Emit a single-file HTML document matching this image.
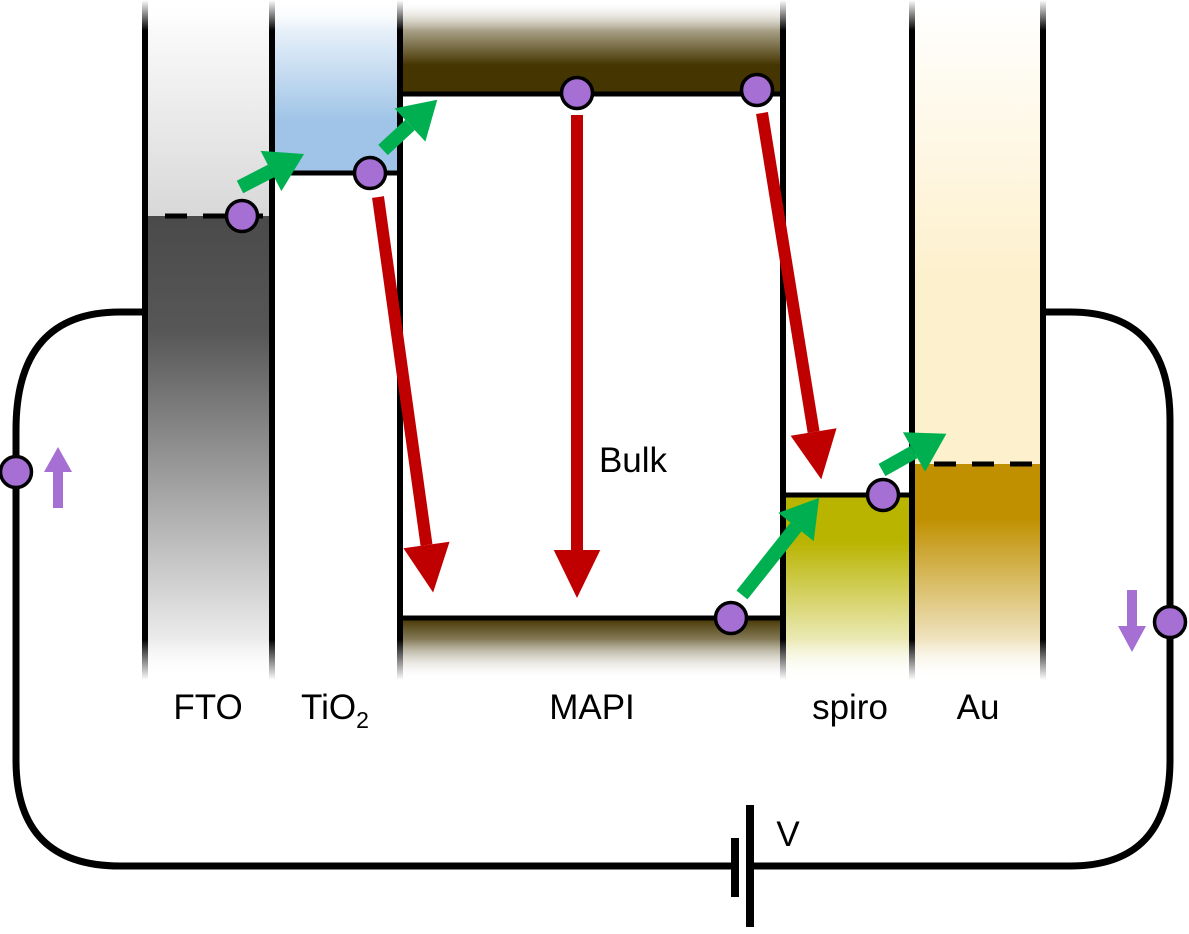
<!DOCTYPE html>
<html><head><meta charset="utf-8"><style>html,body{margin:0;padding:0;background:#fff}svg{display:block}</style></head><body>
<svg width="1189" height="934" viewBox="0 0 1189 934" xmlns="http://www.w3.org/2000/svg">
<defs>
<linearGradient id="fade" gradientUnits="userSpaceOnUse" x1="0" y1="0" x2="0" y2="680">
<stop offset="0" stop-color="#000"/><stop offset="0.045" stop-color="#fff"/><stop offset="0.94" stop-color="#fff"/><stop offset="1" stop-color="#000"/></linearGradient>
<mask id="m" maskUnits="userSpaceOnUse" x="0" y="0" width="1189" height="700"><rect x="0" y="0" width="1189" height="680" fill="url(#fade)"/></mask>
<linearGradient id="ftoT" x1="0" y1="0" x2="0" y2="1"><stop offset="0" stop-color="#fff"/><stop offset="1" stop-color="#d8d8d8"/></linearGradient>
<linearGradient id="ftoB" x1="0" y1="0" x2="0" y2="1"><stop offset="0" stop-color="#4a4a4a"/><stop offset="0.25" stop-color="#575757"/><stop offset="1" stop-color="#fff"/></linearGradient>
<linearGradient id="tio" x1="0" y1="0" x2="0" y2="1"><stop offset="0" stop-color="#fff"/><stop offset="0.7" stop-color="#9fc4e7"/><stop offset="1" stop-color="#9fc4e7"/></linearGradient>
<linearGradient id="mT" x1="0" y1="0" x2="0" y2="1"><stop offset="0" stop-color="#fff"/><stop offset="0.7" stop-color="#453500"/><stop offset="1" stop-color="#453500"/></linearGradient>
<linearGradient id="mB" x1="0" y1="0" x2="0" y2="1"><stop offset="0" stop-color="#453500"/><stop offset="1" stop-color="#fff"/></linearGradient>
<linearGradient id="sp" x1="0" y1="0" x2="0" y2="1"><stop offset="0" stop-color="#b9b400"/><stop offset="0.25" stop-color="#b9b400"/><stop offset="1" stop-color="#fff"/></linearGradient>
<linearGradient id="auT" x1="0" y1="0" x2="0" y2="1"><stop offset="0" stop-color="#fff"/><stop offset="0.6" stop-color="#fdf0cc"/><stop offset="1" stop-color="#fdf0cc"/></linearGradient>
<linearGradient id="auB" x1="0" y1="0" x2="0" y2="1"><stop offset="0" stop-color="#c09000"/><stop offset="0.25" stop-color="#c09000"/><stop offset="1" stop-color="#fff"/></linearGradient>
<marker id="ga" markerUnits="strokeWidth" markerWidth="3" markerHeight="4" refX="0" refY="0" viewBox="0 -1.6 2.6 3.2" orient="auto" overflow="visible"><path d="M0,-1.4 L2.3,0 L0,1.4 z" fill="#00b050"/></marker>
<marker id="ra" markerUnits="strokeWidth" markerWidth="4" markerHeight="4" refX="0" refY="0" viewBox="0 -1.6 3.3 3.2" orient="auto" overflow="visible"><path d="M0,-1.6 L3.3,0 L0,1.6 z" fill="#c00000"/></marker>
</defs>

<g mask="url(#m)">
<rect x="145" y="0" width="127" height="216" fill="url(#ftoT)"/>
<rect x="145" y="216" width="127" height="464" fill="url(#ftoB)"/>
<rect x="272" y="0" width="128" height="173" fill="url(#tio)"/>
<rect x="400" y="0" width="383" height="93" fill="url(#mT)"/>
<rect x="400" y="618" width="383" height="62" fill="url(#mB)"/>
<rect x="783" y="495" width="129" height="185" fill="url(#sp)"/>
<rect x="912" y="0" width="131" height="464" fill="url(#auT)"/>
<rect x="912" y="464" width="131" height="216" fill="url(#auB)"/>
<g stroke="#000" stroke-width="6">
<line x1="145" y1="0" x2="145" y2="680"/><line x1="272" y1="0" x2="272" y2="680"/>
<line x1="400" y1="0" x2="400" y2="680"/><line x1="783" y1="0" x2="783" y2="680"/>
<line x1="912" y1="0" x2="912" y2="680"/><line x1="1043" y1="0" x2="1043" y2="680"/>
</g>
</g>
<g stroke="#000" stroke-width="5">
<line x1="272" y1="173" x2="400" y2="173"/>
<line x1="400" y1="94" x2="783" y2="94"/>
<line x1="400" y1="618" x2="783" y2="618"/>
<line x1="783" y1="495" x2="912" y2="495"/>
<line x1="165" y1="216" x2="272" y2="216" stroke-dasharray="22,16"/>
<line x1="934" y1="464" x2="1043" y2="464" stroke-dasharray="22,16"/>
</g>

<g fill="none" stroke="#000" stroke-width="7">
<path d="M145,312 L120,312 Q16,312 16,430 L16,760 Q16,866 120,866 L735,866"/>
<path d="M750,866 L1070,866 Q1170,866 1170,760 L1170,420 Q1170,312 1070,312 L1043,312"/>
</g>
<line x1="735" y1="838" x2="735" y2="897" stroke="#000" stroke-width="8"/>
<line x1="750" y1="805" x2="750" y2="927" stroke="#000" stroke-width="8"/>

<g stroke="#00b050" stroke-width="14" marker-end="url(#ga)">
<line x1="240" y1="187" x2="271" y2="171"/>
<line x1="383" y1="150" x2="410" y2="125"/>
<line x1="742" y1="595" x2="796" y2="527"/>
<line x1="882" y1="470" x2="914" y2="452"/>
</g>
<g stroke="#c00000" stroke-width="12" marker-end="url(#ra)">
<line x1="378" y1="197" x2="426.5" y2="545"/>
<line x1="577" y1="115" x2="577" y2="550"/>
<line x1="762" y1="113" x2="813.6" y2="432"/>
</g>
<g fill="#a56fd4">
<rect x="53" y="470" width="10" height="38"/><path d="M44,472 L58,447 L72,472 z"/>
<rect x="1127" y="590" width="10" height="38"/><path d="M1118,626 L1132,652 L1146,626 z"/>
</g>
<g fill="#a56fd4" stroke="#000" stroke-width="3.5">
<circle cx="242" cy="216" r="15.5"/><circle cx="370" cy="173" r="15.5"/>
<circle cx="577" cy="93" r="15.5"/><circle cx="757" cy="90" r="15.5"/>
<circle cx="731" cy="618" r="15.5"/><circle cx="883" cy="495" r="15.5"/>
<circle cx="16" cy="472" r="15.5"/><circle cx="1170" cy="622" r="15.5"/>
</g>
<g font-family="Liberation Sans, sans-serif" font-size="35" fill="#000" text-anchor="middle">
<text x="208" y="719">FTO</text>
<text x="335" y="719">TiO<tspan font-size="23" dy="9">2</tspan></text>
<text x="592" y="719">MAPI</text>
<text x="850" y="719">spiro</text>
<text x="978" y="719">Au</text>
<text x="633" y="472">Bulk</text>
<text x="788" y="846">V</text>
</g>
</svg>
</body></html>
